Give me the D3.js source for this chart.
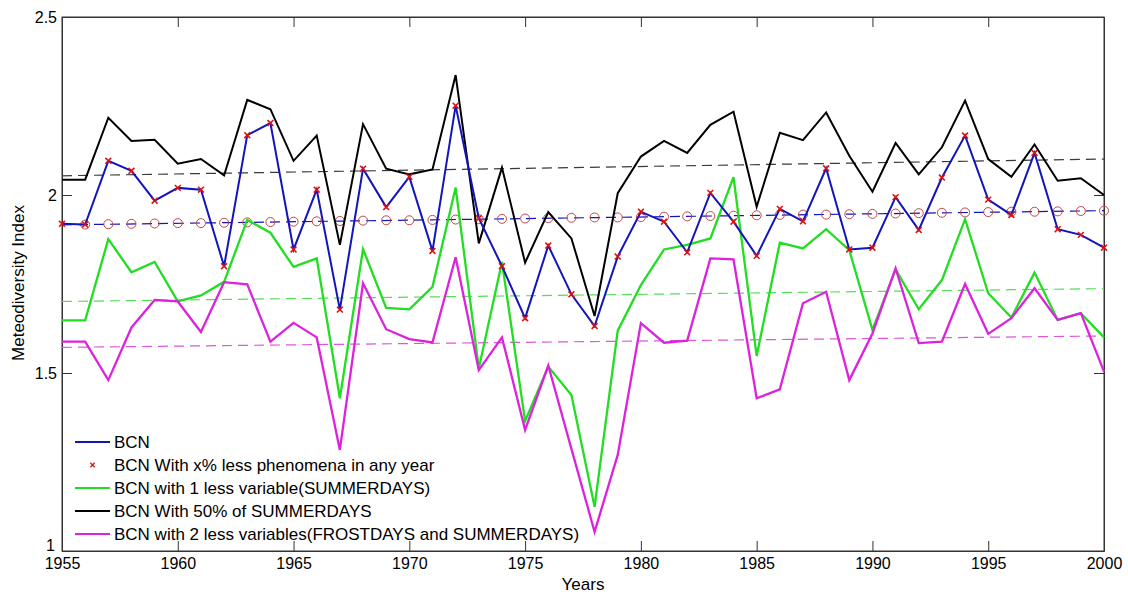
<!DOCTYPE html>
<html><head><meta charset="utf-8">
<script src="https://cdn.jsdelivr.net/npm/d3@7"></script>
<style>body{margin:0;background:#fff}svg{display:block;font-family:Arial,"Liberation Sans",sans-serif}</style>
</head><body>
<svg id="c" width="1128" height="594"></svg>
<script>
const years = d3.range(1955, 2001);
const bcn = [1.919,1.917,2.096,2.068,1.984,2.020,2.015,1.800,2.168,2.202,1.847,2.015,1.678,2.074,1.966,2.051,1.843,2.251,1.935,1.800,1.654,1.858,1.721,1.632,1.827,1.953,1.925,1.839,2.006,1.925,1.829,1.961,1.926,2.075,1.847,1.852,1.994,1.902,2.049,2.167,1.987,1.944,2.118,1.904,1.888,1.852];
const bcnLess = [1.919,1.917,2.096,2.068,1.984,2.020,2.015,1.800,2.168,2.202,1.847,2.015,1.678,2.074,1.966,2.051,1.843,2.251,1.935,1.800,1.654,1.858,1.721,1.632,1.827,1.953,1.925,1.839,2.006,1.925,1.829,1.961,1.926,2.075,1.847,1.852,1.994,1.902,2.049,2.167,1.987,1.944,2.118,1.904,1.888,1.852];
const bcnMinus1 = [1.648,1.648,1.876,1.783,1.812,1.701,1.718,1.756,1.930,1.894,1.798,1.822,1.429,1.848,1.683,1.679,1.742,2.021,1.513,1.812,1.365,1.518,1.438,1.124,1.619,1.747,1.847,1.860,1.878,2.050,1.548,1.866,1.850,1.904,1.845,1.621,1.791,1.679,1.761,1.932,1.724,1.656,1.782,1.649,1.668,1.600];
const bcn50 = [2.043,2.043,2.217,2.152,2.155,2.088,2.101,2.055,2.267,2.241,2.096,2.167,1.860,2.199,2.074,2.058,2.072,2.337,1.864,2.077,1.810,1.952,1.878,1.660,2.005,2.108,2.152,2.118,2.197,2.234,1.967,2.175,2.154,2.232,2.110,2.009,2.146,2.058,2.134,2.265,2.101,2.051,2.142,2.040,2.047,2.000];
const bcnMinus2 = [1.588,1.588,1.480,1.628,1.705,1.701,1.615,1.755,1.749,1.588,1.641,1.600,1.284,1.752,1.623,1.595,1.586,1.825,1.508,1.600,1.340,1.521,1.287,1.054,1.270,1.640,1.585,1.591,1.822,1.819,1.429,1.454,1.696,1.728,1.480,1.611,1.794,1.584,1.588,1.750,1.610,1.654,1.738,1.649,1.668,1.504];
const circleYears = d3.range(1956, 2001);
const circleVals = [1.917,1.918,1.919,1.920,1.921,1.921,1.922,1.923,1.924,1.925,1.926,1.927,1.928,1.929,1.929,1.930,1.931,1.932,1.933,1.934,1.935,1.936,1.937,1.937,1.938,1.939,1.940,1.941,1.942,1.943,1.944,1.945,1.945,1.946,1.947,1.948,1.949,1.950,1.951,1.952,1.953,1.953,1.954,1.955,1.956];
const trendYears = [1955, 2000];
const trendBlue = [1.916, 1.956];
const trendBlack = [2.054, 2.101];
const trendGreen = [1.701, 1.737];
const trendMagenta = [1.572, 1.604];
const xTicks = [1955,1960,1965,1970,1975,1980,1985,1990,1995,2000];
const yTicks = [1, 1.5, 2, 2.5];
const legendLabels = ["BCN","BCN With x% less phenomena in any year","BCN with 1 less variable(SUMMERDAYS)","BCN With 50% of SUMMERDAYS","BCN with 2 less variables(FROSTDAYS and SUMMERDAYS)"];

const L = 62, R = 1104, T = 17, B = 551;
const svg = d3.select("#c");
const x = d3.scaleLinear().domain([1955, 2000]).range([L, R]);
const y = d3.scaleLinear().domain([1, 2.5]).range([B, T]);

const cBlue = "#1414bc", cGreen = "#22dd22", cMag = "#dd22dd", cRed = "#dd1111";

svg.append("rect").attr("x", L).attr("y", T).attr("width", R - L).attr("height", B - T)
  .attr("fill", "#fff").attr("stroke", "#333").attr("stroke-width", 1);

const fmtY = d => String(d);
const gx = svg.append("g").attr("transform", `translate(0,${B})`)
  .call(d3.axisBottom(x).tickValues(xTicks).tickFormat(d3.format("d")).tickSizeInner(-10).tickSizeOuter(0).tickPadding(7));
const gxt = svg.append("g").attr("transform", `translate(0,${T})`)
  .call(d3.axisTop(x).tickValues(xTicks).tickFormat("").tickSizeInner(-10).tickSizeOuter(0));
const gy = svg.append("g").attr("transform", `translate(${L},0)`)
  .call(d3.axisLeft(y).tickValues(yTicks).tickFormat(fmtY).tickSizeInner(-10).tickSizeOuter(0).tickPadding(5));
const gyr = svg.append("g").attr("transform", `translate(${R},0)`)
  .call(d3.axisRight(y).tickValues(yTicks).tickFormat("").tickSizeInner(-10).tickSizeOuter(0));
[gx, gxt, gy, gyr].forEach(g => {
  g.select(".domain").attr("stroke", "#333");
  g.selectAll(".tick line").attr("stroke", "#333");
  g.selectAll("text").attr("font-size", 16).attr("fill", "#000").attr("font-family", "Arial, 'Liberation Sans', sans-serif");
});
gy.selectAll(".tick").filter(d => d === 1).select("text").attr("x", -7).attr("dy", "-0.05em");

const line = d3.line().x(d => x(d[0])).y(d => y(d[1]));
const zipY = (ys, vs) => ys.map((yr, i) => [yr, vs[i]]);

const trends = [[trendBlack, "#3a3a3a"], [trendBlue, cBlue], [trendGreen, "#55dd55"], [trendMagenta, "#dd55dd"]];
trends.forEach(([vals, col]) => {
  svg.append("path").attr("d", line(zipY(trendYears, vals))).attr("fill", "none")
    .attr("stroke", col).attr("stroke-width", 1.2).attr("stroke-dasharray", "10,6");
});
svg.append("g").selectAll("circle").data(zipY(circleYears, circleVals)).join("circle")
  .attr("cx", d => x(d[0])).attr("cy", d => y(d[1])).attr("r", 4.5)
  .attr("fill", "none").attr("stroke", "#c04848").attr("stroke-width", 1);

const series = [[bcn50, "#000", 2], [bcnMinus1, cGreen, 2.3], [bcnMinus2, cMag, 2.3], [bcn, cBlue, 2]];
series.forEach(([vals, col, w]) => {
  svg.append("path").attr("d", line(zipY(years, vals))).attr("fill", "none")
    .attr("stroke", col).attr("stroke-width", w).attr("stroke-linejoin", "miter");
});
const cross = d3.symbol().type(d3.symbolX).size(24);
svg.append("g").selectAll("path").data(zipY(years, bcnLess)).join("path")
  .attr("transform", d => `translate(${x(d[0])},${y(d[1])})`).attr("d", cross)
  .attr("fill", "none").attr("stroke", cRed).attr("stroke-width", 1.6);

const legCols = [cBlue, null, cGreen, "#000", cMag];
const lg = svg.append("g");
legendLabels.forEach((t, i) => {
  const yy = 442 + i * 23;
  if (legCols[i]) {
    lg.append("line").attr("x1", 75).attr("x2", 110).attr("y1", yy).attr("y2", yy)
      .attr("stroke", legCols[i]).attr("stroke-width", 2);
  } else {
    lg.append("path").attr("transform", `translate(92.5,${yy})`).attr("d", d3.symbol().type(d3.symbolX).size(14)())
      .attr("stroke", cRed).attr("stroke-width", 1.3).attr("fill", "none");
  }
  lg.append("text").attr("x", 114).attr("y", yy).attr("dy", "0.36em").attr("font-size", 17).text(t);
});

svg.append("text").attr("x", 583).attr("y", 590).attr("text-anchor", "middle").attr("font-size", 17).text("Years");
svg.append("text").attr("transform", "translate(24,283) rotate(-90)").attr("text-anchor", "middle").attr("font-size", 17).text("Meteodiversity Index");
</script>
</body></html>
